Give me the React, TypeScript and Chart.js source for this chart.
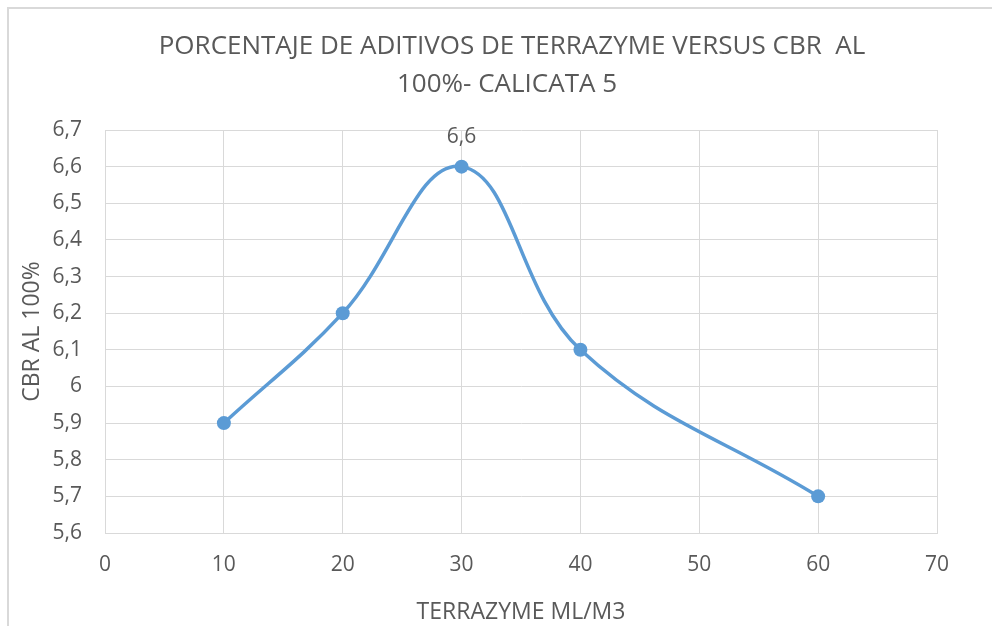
import React, { useEffect, useRef } from "react";
import { Chart, registerables } from "chart.js";

Chart.register(...registerables);

const terrazymeDose = [10, 20, 30, 40, 60];
const cbrValues = [5.9, 6.2, 6.6, 6.1, 5.7];
const labeledPoints = [2];
const titleLines = ["PORCENTAJE DE ADITIVOS DE TERRAZYME VERSUS CBR  AL", "100%- CALICATA 5"];
const xAxisTitle = "TERRAZYME ML/M3";
const yAxisTitle = "CBR AL 100%";
const xRange = [0, 70];
const xStep = 10;
const yRange = [5.6, 6.7];
const yStep = 0.1;

const TEXT = "#595959";
const GRID = "#d9d9d9";
const LINE = "#5b9bd5";
const FONT = "'Open Sans', sans-serif";

const fmt = (v: number) => String(Number(v.toFixed(1))).replace(".", ",");

const decorPlugin = {
  id: "decor",
  beforeDraw(chart: any) {
    const ctx = chart.ctx;
    ctx.save();
    ctx.fillStyle = "#ffffff";
    ctx.fillRect(0, 0, chart.width, chart.height);
    ctx.strokeStyle = GRID;
    ctx.lineWidth = 2;
    ctx.strokeRect(8, 8, chart.width + 20, chart.height + 20);
    ctx.restore();
  },
  afterDatasetsDraw(chart: any) {
    const ctx = chart.ctx;
    const meta = chart.getDatasetMeta(0);
    ctx.save();
    ctx.fillStyle = TEXT;
    ctx.font = `21px ${FONT}`;
    ctx.textAlign = "center";
    ctx.textBaseline = "middle";
    labeledPoints.forEach((i) => {
      const el = meta.data[i];
      ctx.fillText(fmt(cbrValues[i]), el.x, el.y - 30);
    });
    ctx.restore();
  },
  afterDraw(chart: any) {
    const ctx = chart.ctx;
    ctx.save();
    ctx.fillStyle = TEXT;
    ctx.font = `26px ${FONT}`;
    ctx.textAlign = "center";
    ctx.textBaseline = "middle";
    ctx.fillText(titleLines[0], 512, 47);
    ctx.fillText(titleLines[1], 507, 85);
    ctx.restore();
  },
};

export default function App() {
  const ref = useRef<HTMLCanvasElement>(null);
  useEffect(() => {
    if (!ref.current) return;
    const chart = new Chart(ref.current, {
      type: "line",
      data: {
        datasets: [
          {
            data: terrazymeDose.map((x, i) => ({ x, y: cbrValues[i] })),
            borderColor: LINE,
            backgroundColor: LINE,
            borderWidth: 3.5,
            pointRadius: 7,
            pointHoverRadius: 7,
            pointBorderWidth: 0,
            tension: 0.4,
            fill: false,
          },
        ],
      },
      options: {
        animation: false,
        responsive: false,
        maintainAspectRatio: false,
        layout: { padding: { top: 130, right: 55, left: 0, bottom: 0 } },
        plugins: {
          legend: { display: false },
          tooltip: { enabled: false },
          title: { display: false },
        },
        scales: {
          x: {
            type: "linear",
            min: xRange[0],
            max: xRange[1],
            ticks: {
              stepSize: xStep,
              color: TEXT,
              font: { family: FONT, size: 21 },
              padding: 19,
            },
            grid: { color: GRID, lineWidth: 1, drawTicks: false },
            border: { color: GRID, width: 1 },
            title: {
              display: true,
              text: xAxisTitle,
              color: TEXT,
              font: { family: FONT, size: 23 },
              padding: { top: 7, bottom: 0 },
            },
            afterFit: (s: any) => {
              s.height = 93;
            },
          },
          y: {
            type: "linear",
            min: yRange[0],
            max: yRange[1],
            ticks: {
              stepSize: yStep,
              color: TEXT,
              font: { family: FONT, size: 21 },
              padding: 23,
              callback: (v: any) => fmt(Number(v)),
            },
            grid: { color: GRID, lineWidth: 1, drawTicks: false },
            border: { color: GRID, width: 1 },
            title: {
              display: true,
              text: yAxisTitle,
              color: TEXT,
              font: { family: FONT, size: 23 },
              padding: { top: 19, bottom: 0 },
            },
            afterFit: (s: any) => {
              s.width = 105;
            },
          },
        },
      },
      plugins: [decorPlugin],
    });
    return () => chart.destroy();
  }, []);
  return (
    <div style={{ position: "fixed", left: 0, top: 0, width: 992, height: 626 }}>
      <canvas ref={ref} width={992} height={626} style={{ display: "block", width: 992, height: 626 }} />
    </div>
  );
}
